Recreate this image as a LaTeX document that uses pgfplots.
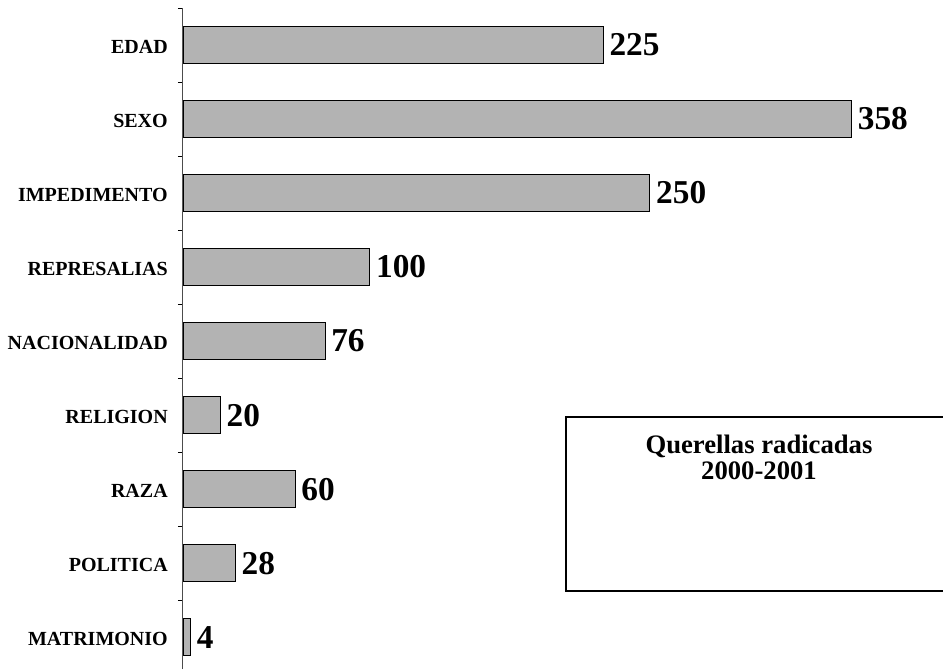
\documentclass[border=0pt]{standalone}
\usepackage{fontspec}
\setmainfont{Liberation Serif}
\usepackage{pgfplots}
\pgfplotsset{compat=1.18}
\definecolor{barfill}{RGB}{179,179,179}
\begin{document}
\begin{tikzpicture}
\useasboundingbox (-137.25pt,0pt) rectangle (570pt,501.75pt);
\begin{axis}[
  at={(0pt,0pt)}, anchor=south west,
  scale only axis, width=570pt, height=495.75pt,
  xmin=0, xmax=407, ymin=-0.43, ymax=8.5,
  xbar, bar width=0.5, bar shift=0pt,
  axis x line=none, axis y line*=left,
  /pgf/number format/assume math mode=true,
  ytick={0,...,8},
  yticklabels={MATRIMONIO,POLITICA,RAZA,RELIGION,NACIONALIDAD,REPRESALIAS,IMPEDIMENTO,SEXO,EDAD},
  minor ytick={-0.5,0.5,...,8.5},
  tick align=outside, major tick length=0pt, minor tick length=3.75pt,
  minor tick style={black, line width=0.6pt},
  yticklabel style={font=\fontsize{15}{15}\selectfont\bfseries, inner sep=0pt, xshift=-11.25pt, yshift=-1.5pt},
  y axis line style={black!70, line width=0.75pt},
  nodes near coords={\pgfmathprintnumber{\pgfplotspointmeta}}, point meta=x,
  nodes near coords style={font=\fontsize{25}{25}\selectfont\bfseries, anchor=west, inner sep=0pt, xshift=4.5pt},
  clip=false,
]
\addplot[fill=barfill, draw=black, line width=0.6pt] coordinates {
  (4,0) (28,1) (60,2) (20,3) (76,4) (100,5) (250,6) (358,7) (225,8)};
\end{axis}
\draw[line width=1.1pt] (287.25pt,189pt) rectangle (580pt,58.5pt);
\node[anchor=base, inner sep=0pt, font=\fontsize{20}{17}\selectfont\bfseries] at (432pt,162pt) {Querellas radicadas};
\node[anchor=base, inner sep=0pt, font=\fontsize{20}{17}\selectfont\bfseries] at (432pt,142.5pt) {2000-2001};
\end{tikzpicture}
\end{document}
